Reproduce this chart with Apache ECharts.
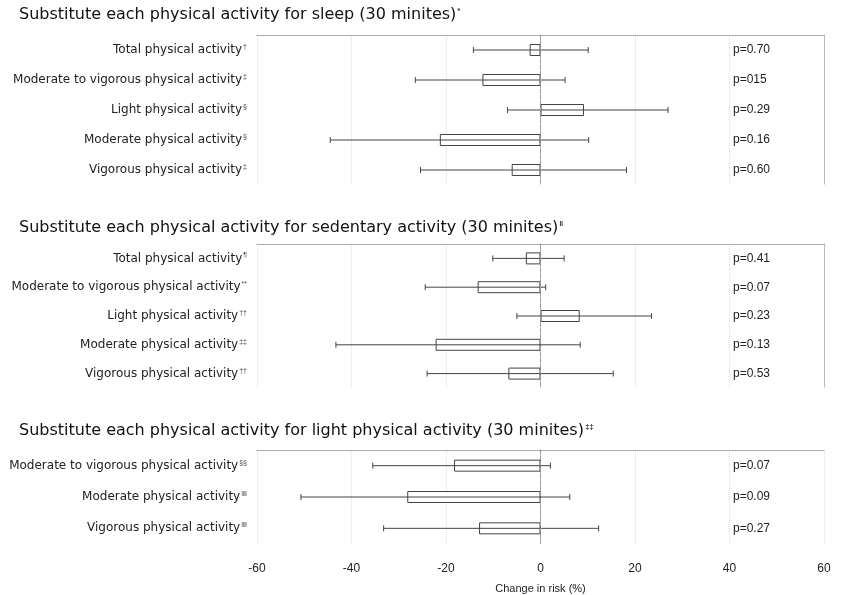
<!DOCTYPE html>
<html><head><meta charset="utf-8">
<script src="https://cdn.jsdelivr.net/npm/echarts@6/dist/echarts.min.js"></script>
<style>html,body{margin:0;padding:0;background:#fff}#c{width:842px;height:595px}</style>
</head><body><div id="c"></div>
<script>
const xTicks = [-60, -40, -20, 0, 20, 40, 60];
const axisTitle = 'Change in risk (%)';

const titles = ['Substitute each physical activity for sleep (30 minites)',
                'Substitute each physical activity for sedentary activity (30 minites)',
                'Substitute each physical activity for light physical activity (30 minites)'];
const titleMarks = ['*', '‖', '‡‡'];

const cats1 = ['Total physical activity', 'Moderate to vigorous physical activity', 'Light physical activity', 'Moderate physical activity', 'Vigorous physical activity'];
const marks1 = ['†', '‡', '§', '§', '‡'];
const est1 = [-2.3, -12.3, 9.2, -21.3, -6.1];
const lo1 = [-14.2, -26.5, -7.0, -44.5, -25.4];
const hi1 = [10.1, 5.2, 27.0, 10.2, 18.2];
const p1 = ['p=0.70', 'p=015', 'p=0.29', 'p=0.16', 'p=0.60'];

const cats2 = ['Total physical activity', 'Moderate to vigorous physical activity', 'Light physical activity', 'Moderate physical activity', 'Vigorous physical activity'];
const marks2 = ['¶', '**', '††', '‡‡', '††'];
const est2 = [-3.1, -13.3, 8.3, -22.2, -6.8];
const lo2 = [-10.1, -24.4, -5.0, -43.3, -24.0];
const hi2 = [5.0, 1.1, 23.5, 8.4, 15.4];
const p2 = ['p=0.41', 'p=0.07', 'p=0.23', 'p=0.13', 'p=0.53'];

const cats3 = ['Moderate to vigorous physical activity', 'Moderate physical activity', 'Vigorous physical activity'];
const marks3 = ['§§', '‖‖', '‖‖'];
const est3 = [-18.3, -28.2, -13.0];
const lo3 = [-35.5, -50.7, -33.2];
const hi3 = [2.1, 6.2, 12.3];
const p3 = ['p=0.07', 'p=0.09', 'p=0.27'];

const panels = [
  {cats: cats1, marks: marks1, est: est1, lo: lo1, hi: hi1, p: p1},
  {cats: cats2, marks: marks2, est: est2, lo: lo2, hi: hi2, p: p2},
  {cats: cats3, marks: marks3, est: est3, lo: lo3, hi: hi3, p: p3}
];

const FONT = '"Liberation Sans", Arial, sans-serif';
const WIDE = '"DejaVu Sans", Verdana, sans-serif';
const gridBoxes = [
  {top: 35, height: 150},
  {top: 244, height: 144},
  {top: 450, height: 97}
];
const titleTops = [7, 220, 423];

const option = {
  animation: false,
  backgroundColor: '#fff',
  title: titles.map((t, i) => ({
    text: '{t|' + t + '}{s|' + titleMarks[i] + '}',
    left: 19, top: titleTops[i], padding: 0,
    textStyle: {
      rich: {
        t: {fontFamily: WIDE, fontSize: 16, color: '#111', fontWeight: 'normal'},
        s: {fontFamily: FONT, fontSize: 8, color: '#333', padding: [0, 0, 8, 1]}
      }
    }
  })),
  grid: gridBoxes.map(g => ({left: 257, right: 18, top: g.top, height: g.height, containLabel: false})),
  xAxis: [],
  yAxis: [],
  series: []
};

panels.forEach((pn, i) => {
  const last = i === panels.length - 1;
  option.xAxis.push({
    type: 'value', gridIndex: i, min: xTicks[0], max: xTicks[xTicks.length - 1], interval: 20,
    position: 'top',
    axisLine: {show: true, onZero: false, lineStyle: {color: '#999', type: 'dotted', width: 1}},
    axisTick: {show: false}, axisLabel: {show: false},
    splitLine: {show: true, lineStyle: {color: '#dcdcdc', type: 'dotted'}}
  });
  const labelMap = {};
  pn.cats.forEach((c, k) => labelMap[c] = pn.marks[k]);
  option.yAxis.push({
    type: 'category', gridIndex: i, data: pn.cats, inverse: true,
    axisLine: {show: true, lineStyle: {color: '#aaa', type: 'dotted'}},
    axisTick: {show: false},
    axisLabel: {
      margin: 10, color: '#222',
      formatter: v => '{n|' + v + '}{s|' + labelMap[v] + '}',
      rich: {
        n: {fontFamily: WIDE, fontSize: 12, color: '#222'},
        s: {fontFamily: FONT, fontSize: 7, color: '#444', padding: [0, 0, 6, 1]}
      }
    },
    splitLine: {show: false}
  });
  option.yAxis.push({
    type: 'category', gridIndex: i, data: pn.p, inverse: true, position: 'right',
    axisLine: {show: true, lineStyle: {color: '#aaa', type: 'dotted'}},
    axisTick: {show: false},
    axisLabel: {inside: true, margin: 91, align: 'left', fontFamily: FONT, fontSize: 12, color: '#222'},
    splitLine: {show: false}
  });
  const yIdx = option.yAxis.length - 2;
  const xIdx = option.xAxis.length - 1;
  option.series.push({
    type: 'bar', xAxisIndex: xIdx, yAxisIndex: yIdx, data: pn.est, barWidth: 12,
    itemStyle: {color: '#fff', borderColor: '#444', borderWidth: 1},
    markLine: {
      silent: true, symbol: 'none', label: {show: false},
      lineStyle: {color: '#999', type: 'dashed', width: 1},
      data: [{xAxis: 0}]
    },
    z: 2
  });
  option.series.push({
    type: 'custom', xAxisIndex: xIdx, yAxisIndex: yIdx,
    data: pn.cats.map((c, k) => [pn.lo[k], pn.hi[k], k]),
    renderItem: (params, api) => {
      const a = api.coord([api.value(0), api.value(2)]);
      const b = api.coord([api.value(1), api.value(2)]);
      const st = {stroke: '#444', lineWidth: 1};
      return {type: 'group', children: [
        {type: 'line', shape: {x1: a[0], y1: a[1], x2: b[0], y2: b[1]}, style: st},
        {type: 'line', shape: {x1: a[0], y1: a[1] - 3, x2: a[0], y2: a[1] + 3}, style: st},
        {type: 'line', shape: {x1: b[0], y1: b[1] - 3, x2: b[0], y2: b[1] + 3}, style: st}
      ]};
    },
    z: 3
  });
  if (last) {
    option.xAxis.push({
      type: 'value', gridIndex: i, min: xTicks[0], max: xTicks[xTicks.length - 1], interval: 20,
      position: 'bottom',
      axisLine: {show: false}, axisTick: {show: false},
      axisLabel: {margin: 19, fontFamily: FONT, fontSize: 12, color: '#222'},
      splitLine: {show: false},
      name: axisTitle, nameLocation: 'middle', nameGap: 39,
      nameTextStyle: {fontFamily: FONT, fontSize: 11, color: '#222'}
    });
  }
});

const chart = echarts.init(document.getElementById('c'), null, {renderer: 'canvas'});
chart.setOption(option);
</script>
</body></html>
